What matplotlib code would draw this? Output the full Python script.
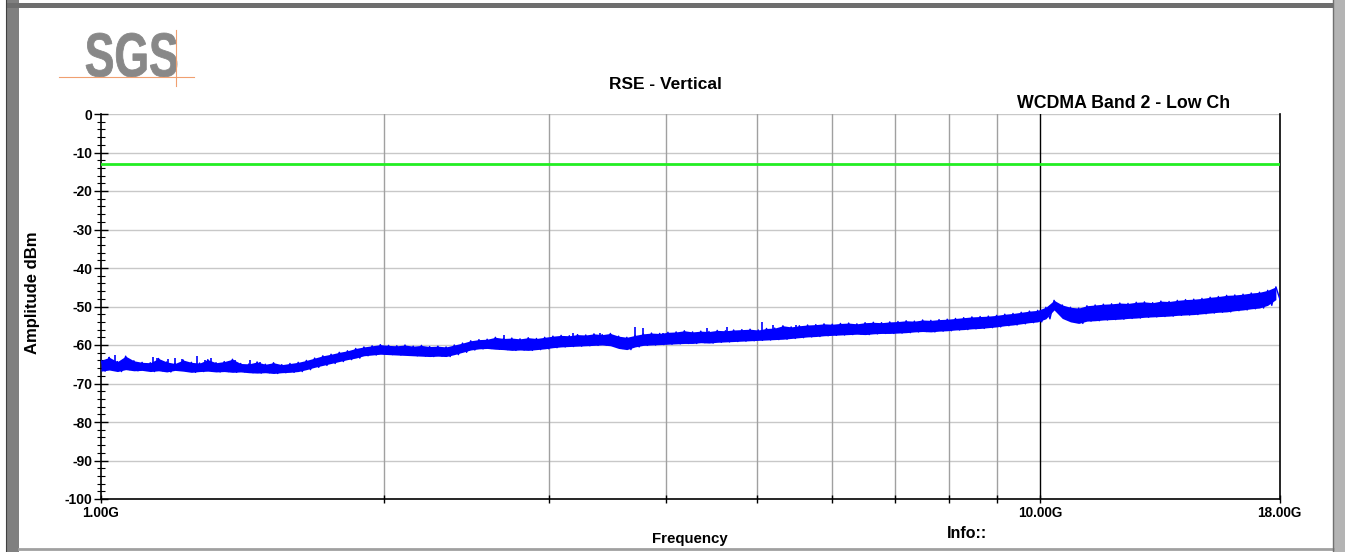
"""RSE - Vertical sweep, WCDMA Band 2 low channel, 1-18 GHz."""
import numpy as np
import matplotlib
matplotlib.use("Agg")
import matplotlib.pyplot as plt
from matplotlib.patches import Rectangle, PathPatch
from matplotlib.lines import Line2D
from matplotlib.textpath import TextPath
from matplotlib.font_manager import FontProperties
from matplotlib.transforms import Affine2D
from matplotlib.ticker import FixedLocator, NullFormatter

# ── data ─────────────────────────────────────────────────────────────────────
FREQ_START_GHZ = 1.0
FREQ_STOP_GHZ = 18.0
LIMIT_DBM = -13.0

# trace (peak/valley pairs along the band)
LEVELS_DBM = [
    -64.0, -66.8, -63.2, -66.5, -64.3, -66.9, -62.9, -66.4, -64.1, -66.7, -64.5, -66.6,
    -64.6, -66.9, -63.5, -66.7, -64.4, -67.0, -64.8, -66.6, -63.9, -66.8, -64.5, -67.1,
    -64.7, -66.9, -63.8, -66.8, -64.6, -67.0, -64.3, -66.9, -63.7, -67.1, -64.8, -67.0,
    -64.9, -67.2, -64.4, -67.3, -65.0, -67.2, -64.6, -67.4, -65.1, -67.2, -64.8, -67.1,
    -64.5, -66.9, -64.0, -66.4, -63.4, -65.8, -62.8, -65.3, -62.4, -64.8, -61.9, -64.3,
    -61.5, -63.8, -60.9, -63.4, -60.5, -62.8, -60.2, -62.6, -59.9, -62.4, -60.1, -62.5,
    -60.2, -62.6, -60.0, -62.7, -60.3, -62.8, -60.1, -62.9, -60.4, -63.0, -60.3, -62.9,
    -60.5, -63.0, -60.0, -62.5, -59.5, -61.9, -58.9, -61.3, -58.6, -61.0, -58.5, -60.9,
    -58.0, -61.1, -58.3, -61.2, -58.2, -61.4, -58.4, -61.3, -58.1, -61.4, -58.3, -61.2,
    -58.0, -61.0, -57.7, -60.7, -57.5, -60.5, -57.6, -60.4, -57.3, -60.3, -57.4, -60.2,
    -57.1, -60.1, -57.3, -60.0, -57.0, -60.2, -57.7, -60.9, -58.0, -61.2, -57.5, -60.5,
    -57.1, -60.1, -56.9, -60.0, -57.0, -59.9, -56.7, -59.8, -56.6, -59.7, -56.3, -59.6,
    -56.6, -59.6, -56.4, -59.4, -56.5, -59.5, -56.2, -59.3, -56.3, -59.2, -56.1, -59.1,
    -56.0, -59.0, -55.9, -58.9, -56.1, -58.8, -55.7, -58.7, -55.6, -58.6, -55.0, -58.5,
    -55.3, -58.3, -55.0, -58.1, -54.8, -57.9, -54.7, -57.8, -54.5, -57.6, -54.6, -57.5,
    -54.4, -57.4, -54.3, -57.3, -54.5, -57.2, -54.2, -57.3, -54.1, -57.1, -54.2, -57.0,
    -54.0, -57.0, -53.9, -56.9, -53.7, -56.8, -53.8, -56.6, -53.5, -56.5, -53.6, -56.6,
    -53.4, -56.4, -53.3, -56.3, -53.1, -56.1, -52.9, -56.0, -52.7, -55.8, -52.6, -55.7,
    -52.5, -55.5, -52.3, -55.3, -52.0, -55.0, -51.8, -54.8, -51.5, -54.5, -51.2, -54.2,
    -51.0, -54.0, -50.2, -53.2, -48.4, -50.9, -49.6, -53.1, -50.2, -54.0, -50.4, -54.4,
    -49.8, -53.8, -49.6, -53.7, -49.4, -53.5, -49.3, -53.4, -49.1, -53.3, -49.2, -53.1,
    -48.9, -53.0, -48.8, -52.8, -49.0, -52.7, -48.6, -52.6, -48.7, -52.5, -48.4, -52.3,
    -48.2, -52.2, -48.1, -52.1, -47.9, -51.9, -47.6, -51.7, -47.4, -51.5, -47.1, -51.4,
    -47.0, -51.1, -46.8, -50.9, -46.5, -50.6, -46.3, -50.4, -45.8, -49.7, -44.9, -48.2,
]

# isolated upward noise spikes seen on the trace
SPIKE_FREQS_GHZ = [1.02, 1.035, 1.06, 1.136, 1.147, 1.178, 1.199, 1.22, 1.266, 1.29,
                   1.31, 1.39, 1.44, 1.477,
                   2.688, 2.81, 3.18, 3.40, 3.70, 3.78, 3.97, 4.11, 4.42, 4.64,
                   5.06, 5.20, 5.35, 5.49]
SPIKE_PEAK_DBM = [-63.2, -62.5, -63.8, -63.2, -63.3, -63.6, -63.4, -63.6, -62.8, -63.8,
                  -63.5, -63.8, -64.0, -64.3,
                  -57.3, -58.6, -57.0, -56.8, -55.4, -55.7, -56.8, -57.0, -55.7, -55.4,
                  -54.1, -54.9, -55.4, -54.9]
SPIKE_BASE_DBM = [-65.0, -65.0, -65.0, -65.2, -65.2, -65.2, -65.2, -65.2, -65.2, -65.2,
                  -65.4, -65.4, -65.5, -65.6,
                  -59.5, -59.8, -59.0, -58.8, -58.2, -58.6, -58.5, -58.4, -58.0, -57.8,
                  -57.4, -57.2, -57.1, -57.0]

# sweep points are log-spaced across the span
freqs = np.geomspace(FREQ_START_GHZ, FREQ_STOP_GHZ, len(LEVELS_DBM))
levels = np.array(LEVELS_DBM)
upper, lower = levels[0::2], levels[1::2]

GRID_FREQS = [2, 3, 4, 5, 6, 7, 8, 9]
LABEL_FREQS = [1, 10, 18]
LABEL_TEXT = ["1.00G", "10.00G", "18.00G"]

# ── palette ───────────────────────────────────────────────────────────────────
BLUE = "#0000ff"
GREEN = "#22ee22"
HGRID = "#c8c8c8"
VGRID = "#a0a0a0"
FONT = ["Liberation Sans", "DejaVu Sans"]

W, H = 1345, 552
fig = plt.figure(figsize=(W / 100, H / 100), dpi=100, facecolor="white")
plt.rcParams["font.family"] = FONT


def fx(px):
    return px / W


def fy(py):
    return 1 - py / H


# ── frame decoration ─────────────────────────────────────────────────────────
fig.patches.append(Rectangle((fx(6), 0), fx(13), 1, transform=fig.transFigure,
                             facecolor="#808080", edgecolor="none", zorder=0))
fig.patches.append(Rectangle((fx(6), fy(8)), 1, fy(3) - fy(8), transform=fig.transFigure,
                             facecolor="#6e6e6e", edgecolor="none", zorder=0))
fig.patches.append(Rectangle((fx(1333), 0), fx(12), 1, transform=fig.transFigure,
                             facecolor="#b4b4b4", edgecolor="none", zorder=0))
fig.lines.append(Line2D([fx(6), fx(6)], [0, 1], transform=fig.transFigure,
                        color="#404040", lw=0.8))
fig.lines.append(Line2D([fx(19), fx(1333)], [fy(549), fy(549)], transform=fig.transFigure,
                        color="#a0a0a0", lw=2))
fig.lines.append(Line2D([fx(1333), fx(1333)], [0, 1], transform=fig.transFigure,
                        color="#707070", lw=1))

# SGS logo: bold glyphs squeezed into the logo box (pixel coords)
logo = TextPath((0, 0), "SGS", size=60,
                prop=FontProperties(family="Liberation Sans", weight="bold"))
ext = logo.get_extents()
x0, x1, top, bot = 86, 177, 33, 77
sx = (x1 - x0) / ext.width
sy = (bot - top) / ext.height
tr = (Affine2D().translate(-ext.x0, -ext.y0).scale(sx, sy)
      .translate(x0, H - bot))
fig.patches.append(PathPatch(logo, transform=tr, facecolor="#888888",
                             edgecolor="#888888", lw=0.6, zorder=1))
fig.lines.append(Line2D([fx(59), fx(194)], [fy(77), fy(77)], transform=fig.transFigure,
                        color="#f0a070", lw=0.8, zorder=2))
fig.lines.append(Line2D([fx(176), fx(176)], [fy(30), fy(86)], transform=fig.transFigure,
                        color="#f0a070", lw=0.8, zorder=2))

# ── axes ─────────────────────────────────────────────────────────────────────
ax = fig.add_axes([fx(101), fy(499), fx(1280) - fx(101), fy(114) - fy(499)])
ax.set_xscale("log")
ax.set_xlim(FREQ_START_GHZ, FREQ_STOP_GHZ)
ax.set_ylim(-100, 0)

ax.fill_between(freqs[0::2], upper, lower, color=BLUE, lw=0, zorder=4)
ax.plot(freqs, levels, color=BLUE, lw=1.0, zorder=4)
ax.vlines(SPIKE_FREQS_GHZ, SPIKE_BASE_DBM, SPIKE_PEAK_DBM, color=BLUE, lw=1.2, zorder=4)
ax.axhline(LIMIT_DBM, color=GREEN, lw=2.0, zorder=5)

for y in range(-90, 1, 10):
    ax.axhline(y, color=HGRID, lw=1.0, zorder=1)
for f in GRID_FREQS:
    ax.axvline(f, color=VGRID, lw=1.0, zorder=1)
ax.axvline(10, color="black", lw=1.0, zorder=2)

ax.xaxis.set_major_locator(FixedLocator(LABEL_FREQS + GRID_FREQS))
ax.xaxis.set_minor_locator(FixedLocator([]))
ax.xaxis.set_major_formatter(NullFormatter())
ax.xaxis.set_minor_formatter(NullFormatter())
ax.tick_params(axis="x", which="major", direction="inout", length=6, width=1, colors="black")

ax.set_yticks(range(-100, 1, 10))
ax.set_yticks(range(-100, 1, 2), minor=True)
ax.set_yticklabels([str(v) for v in range(-100, 1, 10)], fontsize=10, fontweight="bold")
ax.tick_params(axis="y", which="major", direction="inout", length=10, width=1, pad=1)
ax.tick_params(axis="y", which="minor", direction="inout", length=6, width=0.8)

for s in ["left", "bottom", "right"]:
    ax.spines[s].set_color("black")
    ax.spines[s].set_linewidth(1.2)
ax.spines["top"].set_visible(False)

for f, lab in zip(LABEL_FREQS, LABEL_TEXT):
    fig.text(fx(101 + 939 * np.log10(f)), fy(513), lab, ha="center", va="center",
             fontsize=9.8, fontweight="bold")

# ── titles ────────────────────────────────────────────────────────────────────
fig.text(fx(665), fy(84.5), "RSE - Vertical", ha="center", va="center",
         fontsize=12.5, fontweight="bold")
fig.text(fx(1124), fy(103.5), "WCDMA Band 2 - Low Ch", ha="center", va="center",
         fontsize=12.8, fontweight="bold")
fig.text(fx(33), fy(293), "Amplitude dBm", ha="center", va="center", rotation=90,
         fontsize=12, fontweight="bold")
fig.text(fx(690), fy(539), "Frequency", ha="center", va="center",
         fontsize=10.8, fontweight="bold")
fig.text(fx(967), fy(534), "Info::", ha="center", va="center",
         fontsize=11.5, fontweight="bold")

plt.savefig("out.png", dpi=100, facecolor="white")
plt.close()
